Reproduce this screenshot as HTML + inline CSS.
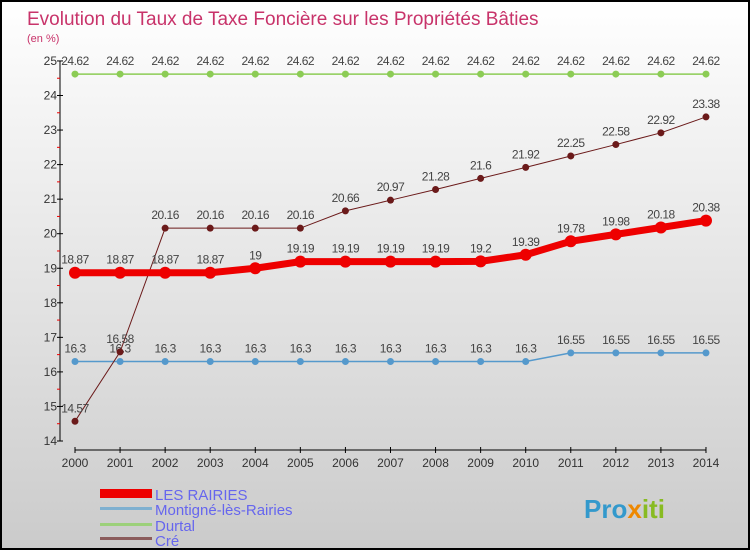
<!DOCTYPE html>
<html><head><meta charset="utf-8"><style>
body{margin:0}
#c{width:750px;height:550px;position:relative;box-sizing:border-box;border:2px solid #000;background:linear-gradient(#fff,#f4f4f4 20%,#e0e0e0 60%,#cbcbcb);font-family:"Liberation Sans","DejaVu Sans",sans-serif;overflow:hidden}
</style></head><body>
<div id="c">
<svg width="746" height="546" style="position:absolute;left:0;top:0" id="s">
<text x="25" y="23" font-size="19" fill="#c8336a">Evolution du Taux de Taxe Foncière sur les Propriétés Bâties</text>
<text x="25" y="40" font-size="11" fill="#c8336a">(en %)</text>
<g id="ax"></g><g id="plot"></g>
<g>
<rect x="98" y="487" width="52" height="9" fill="#e00"/>
<text x="153" y="498" font-size="15" fill="#6666ee">LES RAIRIES</text>
<rect x="98" y="505" width="52" height="3" fill="#7fb0d0"/>
<text x="153" y="513" font-size="15" fill="#6666ee">Montigné-lès-Rairies</text>
<rect x="98" y="521" width="52" height="3" fill="#9cd07a"/>
<text x="153" y="529" font-size="15" fill="#6666ee">Durtal</text>
<rect x="98" y="535" width="52" height="3" fill="#8b5c5c"/>
<text x="153" y="544" font-size="15" fill="#6666ee">Cré</text>
</g>
<text x="582" y="516" font-size="26" font-weight="bold" fill="#3399cc">Pro<tspan fill="#ee8800">x</tspan><tspan fill="#88bb22">iti</tspan></text>
</svg></div>
<script>
const years=[2000,2001,2002,2003,2004,2005,2006,2007,2008,2009,2010,2011,2012,2013,2014];
const rairies=[18.87,18.87,18.87,18.87,19,19.19,19.19,19.19,19.19,19.2,19.39,19.78,19.98,20.18,20.38];
const montigne=[16.3,16.3,16.3,16.3,16.3,16.3,16.3,16.3,16.3,16.3,16.3,16.55,16.55,16.55,16.55];
const durtal=[24.62,24.62,24.62,24.62,24.62,24.62,24.62,24.62,24.62,24.62,24.62,24.62,24.62,24.62,24.62];
const cre=[14.57,16.58,20.16,20.16,20.16,20.16,20.66,20.97,21.28,21.6,21.92,22.25,22.58,22.92,23.38];
const yTicks=[14,15,16,17,18,19,20,21,22,23,24,25];
const NS='http://www.w3.org/2000/svg';
const X=i=>73+i*45.07, Y=v=>439-(v-14)*34.55;
function mk(t,a,p){const e=document.createElementNS(NS,t);for(const k in a)e.setAttribute(k,a[k]);p.appendChild(e);return e;}
const ax=document.getElementById('ax'),pl=document.getElementById('plot');
let yl=mk('line',{x1:58,y1:Y(25),x2:58,y2:Y(14),stroke:'#000'},ax);

yTicks.forEach(v=>{mk('line',{x1:55,x2:61,y1:Y(v),y2:Y(v),stroke:'#000'},ax);
 if(v<25)mk('line',{x1:55,x2:58,y1:Y(v+0.5),y2:Y(v+0.5),stroke:'#e00'},ax);
 const t=mk('text',{x:55,y:Y(v)+4,'font-size':12,fill:'#333','text-anchor':'end'},ax);t.textContent=v;
 });
let xl=mk('line',{x1:X(0),y1:448,x2:X(14),y2:448,stroke:'#000'},ax);

years.forEach((y,i)=>{mk('line',{x1:X(i),x2:X(i),y1:445,y2:451,stroke:'#000'},ax);
 const t=mk('text',{x:X(i),y:465,'font-size':12,fill:'#333','text-anchor':'middle'},ax);t.textContent=y;
 });
function series(d,name,col,w,r){const g=mk('g',{},pl);
 
 mk('polyline',{points:d.map((v,i)=>X(i)+','+Y(v)).join(' '),fill:'none',stroke:col,'stroke-width':w},g);
 d.forEach((v,i)=>{const c=mk('circle',{cx:X(i),cy:Y(v),r:r,fill:col},g);
  
  const t=mk('text',{x:X(i),y:Y(v)-9,'font-size':12,fill:'#444','text-anchor':'middle','letter-spacing':'-0.5'},g);t.textContent=v;
  });}
series(durtal,'durtal','#8ccc55',1.5,3.5);
series(montigne,'montigne','#5599cc',1.5,3.5);
series(cre,'cre','#6b1a1a',1,3.5);
series(rairies,'les-rairies','#ee0000',7,6);
</script>
</body></html>
